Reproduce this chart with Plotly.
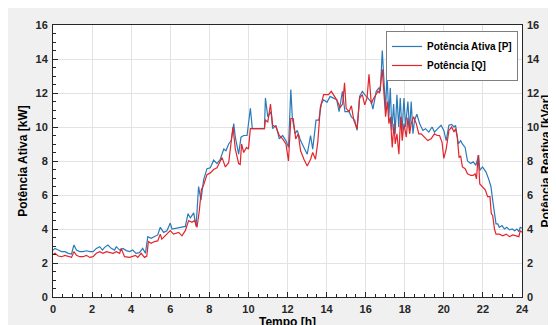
import plotly.graph_objects as go

# ---- data (time in hours) ----
t_p = [0.0, 0.10, 0.27, 0.44, 0.61, 0.78, 0.95, 1.07, 1.20, 1.37, 1.54, 1.71, 1.88, 2.05, 2.22, 2.39,
       2.53, 2.64, 2.81, 2.98, 3.15, 3.24, 3.41, 3.58, 3.75, 3.92, 4.08, 4.25, 4.42, 4.59, 4.73, 4.85,
       5.02, 5.19, 5.36, 5.49, 5.66, 5.83, 6.00, 6.09, 6.34, 6.60, 6.77, 6.91, 7.03, 7.20, 7.32, 7.45,
       7.57, 7.71, 7.88, 8.05, 8.22, 8.39, 8.56, 8.74, 8.85, 8.99, 9.12, 9.25, 9.33, 9.50, 9.62, 9.76,
       9.93, 10.10, 10.20, 10.40, 10.60, 10.82, 10.87, 10.99, 11.16, 11.24, 11.41, 11.58, 11.75, 11.92,
       12.05, 12.17, 12.25, 12.39, 12.50, 12.67, 12.84, 13.01, 13.18, 13.29, 13.46, 13.60, 13.73, 13.85,
       14.02, 14.18, 14.35, 14.52, 14.64, 14.81, 14.94, 15.15, 15.27, 15.44, 15.56, 15.69, 15.83, 15.95,
       16.12, 16.29, 16.37, 16.54, 16.68, 16.75, 16.85, 16.94, 17.02, 17.09, 17.19, 17.26, 17.34, 17.43,
       17.51, 17.60, 17.69, 17.77, 17.86, 17.96, 18.04, 18.16, 18.25, 18.33, 18.42, 18.50, 18.62, 18.76,
       18.93, 19.06, 19.23, 19.40, 19.52, 19.69, 19.86, 20.00, 20.12, 20.26, 20.40, 20.52, 20.60, 20.74,
       20.86, 20.95, 21.09, 21.21, 21.38, 21.50, 21.64, 21.78, 21.84, 21.98, 22.16, 22.29, 22.41, 22.50,
       22.59, 22.67, 22.76, 22.84, 22.98, 23.10, 23.22, 23.36, 23.50, 23.62, 23.74, 23.84, 23.91, 24.00]
p_kw = [2.75, 2.86, 2.76, 2.67, 2.67, 2.57, 2.53, 3.06, 2.76, 2.67, 2.67, 2.72, 2.67, 2.67, 2.86, 2.96,
        2.76, 2.92, 3.06, 2.86, 2.76, 2.96, 2.76, 2.86, 2.73, 2.67, 2.76, 2.57, 2.61, 2.86, 2.57, 3.55,
        3.45, 3.55, 3.65, 4.10, 3.80, 3.90, 4.35, 4.00, 4.05, 4.10, 4.15, 4.90, 4.65, 4.95, 4.15, 6.50,
        5.70, 6.90, 7.55, 7.60, 8.05, 7.85, 8.10, 8.70, 8.60, 9.00, 9.20, 10.20, 9.40, 8.40, 9.40, 9.50,
        9.50, 11.10, 9.90, 9.90, 9.90, 9.90, 11.70, 10.60, 10.90, 9.90, 10.10, 9.30, 9.50, 9.20,
        8.80, 12.20, 10.50, 9.60, 9.80, 9.20, 8.80, 8.40, 9.50, 8.70, 10.40, 10.40, 11.35, 11.60,
        11.45, 11.80, 11.70, 11.60, 10.90, 12.10, 10.90, 10.90, 10.60, 10.40, 9.80, 11.80, 12.10, 11.90,
        11.70, 11.45, 11.05, 12.10, 12.30, 12.10, 14.50, 12.70, 11.00, 13.10, 10.60, 12.30, 9.80, 11.35,
        9.60, 11.90, 10.00, 11.70, 9.70, 11.70, 10.00, 11.50, 9.80, 11.50, 9.60, 10.40, 10.75, 10.20,
        9.80, 9.90, 9.70, 10.00, 9.70, 9.90, 10.10, 9.80, 9.20, 10.10, 10.15, 10.00, 10.10, 9.00,
        9.20, 9.00, 8.80, 8.00, 7.85, 7.95, 7.75, 8.35, 7.45, 7.65, 7.35, 6.95, 6.50, 5.70,
        4.80, 4.30, 4.30, 4.10, 4.20, 4.00, 4.10, 3.95, 4.00, 3.90, 4.00, 3.85, 4.10, 4.05]

t_q = [0.0, 0.10, 0.27, 0.44, 0.61, 0.78, 0.95, 1.07, 1.20, 1.37, 1.54, 1.71, 1.88, 2.05, 2.22, 2.39,
       2.56, 2.73, 2.90, 3.07, 3.24, 3.41, 3.49, 3.66, 3.92, 4.08, 4.22, 4.34, 4.51, 4.68, 4.80, 4.88,
       5.02, 5.19, 5.36, 5.49, 5.57, 6.00, 6.17, 6.43, 6.60, 6.77, 6.94, 7.11, 7.25, 7.37, 7.49, 7.59,
       7.71, 7.88, 8.05, 8.22, 8.39, 8.65, 8.82, 8.99, 9.21, 9.33, 9.50, 9.58, 9.65, 9.76, 9.90, 10.00,
       10.10, 10.20, 10.40, 10.60, 10.82, 10.87, 10.99, 11.13, 11.24, 11.41, 11.58, 11.75, 11.92, 12.05,
       12.17, 12.29, 12.42, 12.55, 12.67, 12.84, 13.01, 13.18, 13.29, 13.43, 13.55, 13.68, 13.85, 14.02,
       14.10, 14.24, 14.40, 14.52, 14.69, 14.82, 14.92, 15.00, 15.15, 15.27, 15.39, 15.56, 15.69, 15.83,
       15.95, 16.07, 16.17, 16.29, 16.37, 16.51, 16.63, 16.71, 16.85, 16.94, 17.02, 17.11, 17.19, 17.26,
       17.36, 17.45, 17.51, 17.60, 17.70, 17.79, 17.87, 17.96, 18.08, 18.16, 18.25, 18.33, 18.45, 18.59,
       18.72, 18.84, 19.01, 19.18, 19.35, 19.52, 19.66, 19.78, 19.91, 20.00, 20.12, 20.26, 20.40, 20.52,
       20.60, 20.69, 20.78, 20.86, 20.95, 21.09, 21.21, 21.38, 21.50, 21.60, 21.67, 21.76, 21.84, 21.98,
       22.12, 22.24, 22.36, 22.43, 22.50, 22.59, 22.67, 22.84, 23.02, 23.19, 23.36, 23.53, 23.71, 23.84,
       23.91, 24.00]
q_kvar = [2.50, 2.57, 2.41, 2.37, 2.45, 2.37, 2.33, 2.67, 2.45, 2.37, 2.37, 2.45, 2.33, 2.37, 2.57, 2.67,
          2.57, 2.67, 2.61, 2.57, 2.67, 2.57, 2.86, 2.37, 2.33, 2.37, 2.45, 2.33, 2.57, 2.33, 2.41, 3.26,
          3.16, 3.26, 3.30, 3.70, 3.40, 3.90, 3.70, 3.80, 3.60, 3.90, 4.50, 4.40, 4.50, 4.10, 5.10, 6.30,
          6.60, 7.20, 7.30, 7.50, 7.60, 8.20, 7.65, 7.90, 10.00, 8.70, 7.85, 7.80, 9.00, 8.50, 8.80, 8.70,
          9.90, 9.90, 9.90, 9.90, 9.90, 10.40, 10.30, 11.35, 10.10, 10.00, 9.50, 9.30, 9.00, 8.00,
          10.50, 10.50, 9.30, 9.60, 8.60, 8.10, 7.70, 8.10, 8.50, 8.10, 9.10, 11.15, 11.90, 11.90,
          11.90, 12.10, 11.80, 11.60, 11.15, 11.35, 12.60, 11.10, 10.90, 11.25, 10.40, 9.90, 11.70, 11.90,
          11.30, 11.70, 13.10, 11.35, 11.60, 11.90, 12.10, 12.00, 13.40, 11.90, 10.60, 11.50, 10.20, 10.60,
          8.80, 10.20, 9.00, 9.60, 8.40, 10.60, 9.20, 10.20, 9.40, 10.55, 9.60, 10.20, 10.60, 10.20,
          9.60, 9.60, 9.40, 9.20, 9.30, 9.60, 9.50, 9.50, 9.10, 8.15, 8.70, 9.80, 10.00, 9.70,
          9.90, 9.40, 8.20, 8.30, 7.65, 7.55, 7.25, 7.15, 7.15, 7.25, 6.95, 8.35, 6.65, 6.50,
          6.30, 5.90, 5.90, 4.90, 4.80, 4.00, 3.70, 3.70, 3.60, 3.70, 3.55, 3.65, 3.60, 3.55,
          3.90, 3.80]

x_ticks = list(range(0, 25, 2))
y_ticks = list(range(0, 17, 2))

FONT = "Liberation Sans, Arial, sans-serif"
INK = "#262626"

fig = go.Figure()
fig.add_trace(go.Scatter(x=t_p, y=p_kw, mode="lines", name="Potência Ativa [P]",
                         line=dict(color="#2a7ab9", width=1.2)))
fig.add_trace(go.Scatter(x=t_q, y=q_kvar, mode="lines", name="Potência [Q]", yaxis="y2",
                         line=dict(color="#e3242b", width=1.2)))

axis_common = dict(
    showline=True, linecolor=INK, linewidth=1, mirror=True,
    ticks="inside", ticklen=5, tickcolor=INK, tickwidth=1,
    tickfont=dict(family=FONT, size=11, color=INK, weight="bold"),
    zeroline=False, automargin=False,
    minor=dict(ticks="inside", ticklen=3, tickcolor=INK, dtick=0.5, showgrid=False),
)

title_font = dict(family=FONT, size=12, color="black", weight="bold")

fig.update_layout(
    width=556, height=325,
    margin=dict(l=45, r=42, t=17, b=36),
    paper_bgcolor="#f0f0f0",
    plot_bgcolor="white",
    font=dict(family=FONT, color=INK),
    showlegend=True,
    legend=dict(x=0.9915, y=0.978, xanchor="right", yanchor="top",
                bgcolor="white", bordercolor="#7f7f7f", borderwidth=1,
                font=dict(family=FONT, size=10, color="black", weight="bold"),
                tracegroupgap=0, itemwidth=30),
    xaxis=dict(range=[0, 24], tickvals=x_ticks, showgrid=True, gridcolor="#e3e3e3",
               ticklabelstandoff=2,
               title=dict(text="Tempo [h]", font=title_font, standoff=2),
               **axis_common),
    yaxis=dict(range=[0, 16], tickvals=y_ticks, showgrid=True, gridcolor="#e3e3e3",
               ticklabelstandoff=2,
               title=dict(text="Potência Ativa [kW]", font=title_font, standoff=5),
               **axis_common),
    yaxis2=dict(range=[0, 16], tickvals=y_ticks, overlaying="y", side="right", showgrid=False,
                automargin=False, ticklabelstandoff=4,
                title=dict(text="Potência Reativa [kVar]", font=title_font, standoff=1),
                showline=False, ticks="", zeroline=False,
                tickfont=dict(family=FONT, size=11, color=INK, weight="bold")),
)

fig.write_html("out.html")
